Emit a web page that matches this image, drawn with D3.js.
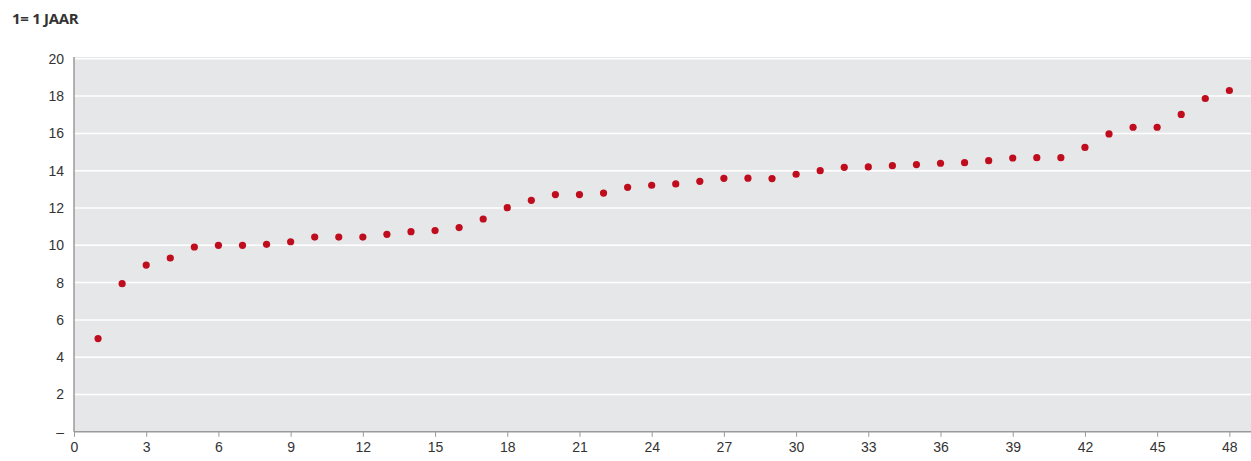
<!DOCTYPE html>
<html><head><meta charset="utf-8">
<script src="https://cdn.jsdelivr.net/npm/d3@7"></script>
<style>body{margin:0;background:#fff;} svg{display:block;font-family:"Open Sans","Noto Sans",sans-serif;}</style>
</head><body><svg id="c" width="1251" height="461"></svg>
<script>
const categories = d3.range(1, 49);
const values = [5.0,7.94,8.94,9.32,9.91,10.0,10.0,10.05,10.19,10.44,10.44,10.44,10.59,10.73,10.79,10.95,
  11.41,12.02,12.41,12.72,12.72,12.8,13.11,13.22,13.29,13.43,13.59,13.6,13.58,13.81,
  14.0,14.18,14.2,14.27,14.33,14.4,14.43,14.54,14.68,14.7,14.7,15.25,15.97,16.33,16.33,17.02,17.87,18.3];
const xTicks = d3.range(0, 49, 3);
const yTicks = d3.range(0, 21, 2);
const yTickLabels = yTicks.map(v => v === 0 ? "–" : String(v));
const title = "1= 1 JAAR";

const svg = d3.select("#c");
const L = 74, R = 1251, T = 57, B = 431.8;
const x = d3.scaleLinear().domain([0, 49]).range([L, L + 49 * 24.07]);
const y = d3.scaleLinear().domain([0, 20]).range([B, 58.8]);

svg.append("rect").attr("x", L).attr("y", T).attr("width", R - L).attr("height", B - T).attr("fill", "#e6e7e8");

svg.append("g").selectAll("line").data(yTicks.filter(v => v > 0)).join("line")
  .attr("x1", L).attr("x2", R).attr("y1", d => y(d)).attr("y2", d => y(d))
  .attr("stroke", "#fff").attr("stroke-width", 1.5);

const yAxis = svg.append("g").attr("transform", `translate(${L},0)`)
  .call(d3.axisLeft(y).tickValues(yTicks).tickSize(0).tickPadding(10).tickFormat((d, i) => yTickLabels[i]));
yAxis.select(".domain").remove();
yAxis.selectAll("text").attr("font-size", 14).attr("fill", "#333");

const xAxis = svg.append("g").attr("transform", `translate(0,${B})`)
  .call(d3.axisBottom(x).tickValues(xTicks).tickSize(5).tickPadding(5).tickSizeOuter(0));
xAxis.select(".domain").remove();
xAxis.selectAll("line").attr("stroke", "#9a9a9a").attr("stroke-width", 1);
xAxis.selectAll("text").attr("font-size", 14).attr("fill", "#333");

svg.append("line").attr("x1", L).attr("x2", R).attr("y1", B).attr("y2", B).attr("stroke", "#9a9a9a").attr("stroke-width", 1.5);
svg.append("line").attr("x1", L).attr("x2", L).attr("y1", T).attr("y2", B).attr("stroke", "#9a9a9a").attr("stroke-width", 1.5);

svg.append("g").selectAll("circle").data(values).join("circle")
  .attr("cx", (d, i) => x(categories[i])).attr("cy", d => y(d)).attr("r", 3.6).attr("fill", "#c00d1e");

svg.append("text").attr("x", 12).attr("y", 24).attr("font-size", 15).attr("font-weight", "bold")
  .attr("fill", "#333").attr("letter-spacing", "-0.3").text(title);
</script></body></html>
